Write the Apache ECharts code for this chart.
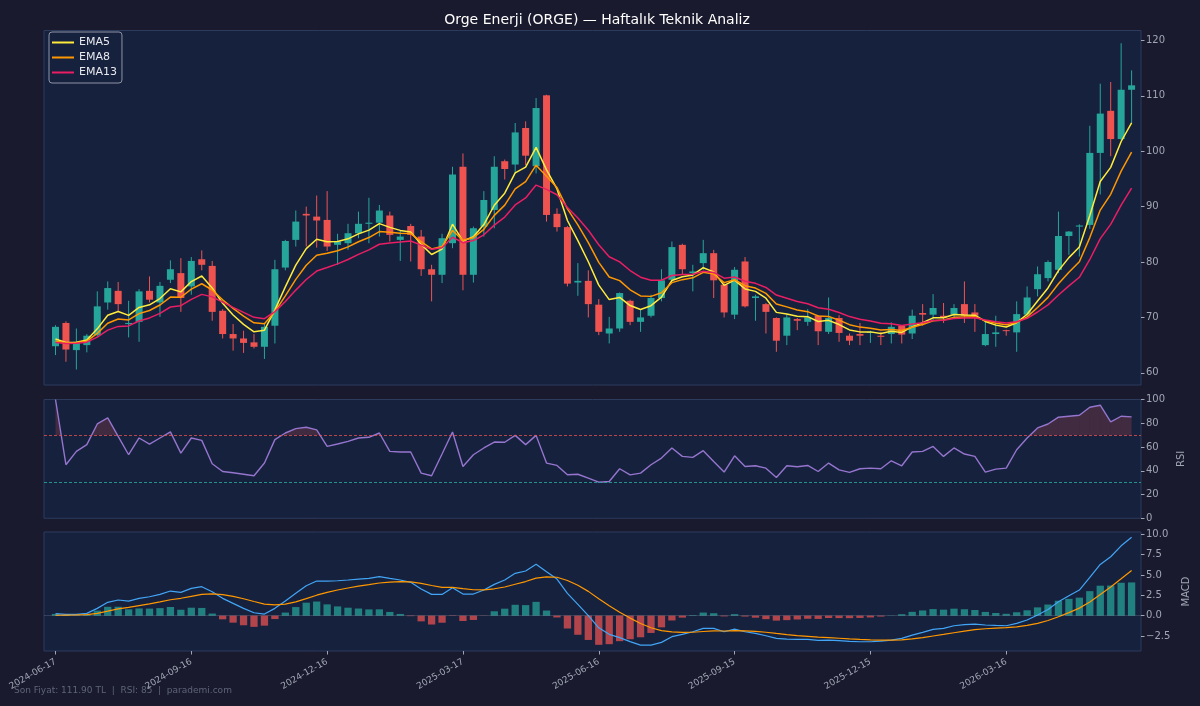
<!DOCTYPE html>
<html><head><meta charset="utf-8">
<script src="https://cdn.jsdelivr.net/npm/echarts@6/dist/echarts.min.js"></script>
<style>html,body{margin:0;padding:0;background:#1a1a2e;}#c{width:1200px;height:706px;}</style>
</head><body><div id="c"></div>
<script>
// ---- data (weekly, index 0 = 2024-06-17) ----
const opens  = [64.8,69.0,64.1,65.0,66.8,72.7,74.8,68.8,69.2,74.8, 72.7,76.8,78.0,75.6,80.5,79.3,71.2,67.0,66.2,65.5, 64.7,68.5,79.0,84.0,88.7,88.2,87.6,83.1,83.4,85.2, 86.9,87.1,88.4,84.0,86.5,84.6,78.7,77.7,83.4,97.2, 77.7,86.4,89.4,98.2,97.6,104.2,97.3,110.1,88.7,86.3, 76.3,76.6,72.3,67.1,68.0,73.0,69.2,70.3,73.5,76.8, 83.1,78.0,79.8,81.6,75.9,70.5,80.1,73.5,72.4,69.9, 66.7,69.7,69.2,70.3,67.4,69.9,66.7,67.0,67.2,66.7, 67.0,68.5,67.1,70.8,70.5,70.3,70.5,72.4,70.9,65.0, 67.0,67.7,67.3,70.5,75.1,77.1,78.6,84.7,86.4,86.7, 99.7,107.3,102.2,111.1];
const closes = [68.3,64.2,65.6,66.7,72.0,75.3,72.4,69.0,74.7,73.2, 75.7,78.7,73.5,80.2,79.5,71.0,67.0,66.2,65.4,64.7, 68.3,78.7,83.8,87.3,88.4,87.5,82.8,83.7,85.2,86.9, 87.1,89.3,84.9,84.6,84.9,78.7,77.7,84.3,95.8,77.7, 86.1,91.2,97.2,96.8,103.4,99.2,107.8,88.5,86.3,76.1, 76.6,72.4,67.4,68.0,74.4,69.2,70.0,73.5,76.7,82.7, 78.7,78.3,81.6,76.7,70.9,78.6,72.0,73.8,71.0,65.8, 70.0,69.4,70.0,67.5,69.9,67.2,65.8,66.7,67.4,66.5, 68.3,66.9,70.3,70.5,71.7,70.0,71.7,70.3,70.3,67.0, 67.3,67.6,70.6,73.6,77.8,80.0,84.7,85.5,86.6,99.7, 106.8,102.2,111.1,111.9];
const lows   = [63.2,62.0,60.6,63.7,66.5,71.4,71.0,66.4,65.6,72.7, 70.1,76.2,71.0,74.1,78.5,69.4,66.2,64.0,63.6,64.4, 62.5,65.3,78.5,82.8,82.8,82.6,82.0,79.5,82.2,84.3, 83.4,84.6,83.7,80.2,80.1,77.5,72.9,76.2,82.5,74.9, 76.3,84.6,86.1,94.9,96.0,97.5,96.0,87.3,85.5,75.6, 73.9,70.0,66.8,65.3,67.4,68.6,67.4,70.0,72.9,76.5, 77.7,74.7,78.6,73.5,70.0,69.7,71.8,69.4,67.1,63.8, 65.0,67.7,68.5,65.0,67.0,65.6,65.0,65.0,65.4,65.0, 65.3,65.3,66.1,68.5,69.5,69.0,70.0,69.0,67.4,64.8, 64.7,66.7,63.8,70.0,73.8,76.5,78.0,81.3,81.0,86.0, 92.2,99.1,102.0,105.1];
const highs  = [68.6,69.3,68.0,67.0,74.7,76.5,76.4,73.0,75.1,77.4, 76.4,80.3,80.7,80.9,82.1,80.2,71.5,68.8,67.6,67.0, 69.0,80.4,84.0,89.3,90.0,92.0,92.8,85.1,86.9,89.1, 91.6,90.3,89.1,85.8,86.9,85.8,79.5,85.1,97.2,99.6, 86.4,92.8,99.1,98.5,105.1,105.4,109.6,110.2,89.7,86.5, 79.8,78.5,73.3,70.1,74.5,73.2,71.4,74.1,78.7,83.7, 83.3,79.5,84.0,82.2,76.2,79.1,80.9,74.1,72.6,70.0, 70.6,69.9,71.5,70.4,73.6,70.4,67.1,69.0,67.6,67.4, 69.1,68.6,71.4,72.4,74.2,72.6,72.4,76.5,72.4,69.2, 70.3,67.8,72.9,75.6,79.2,80.3,89.1,85.6,86.8,104.6, 112.2,112.5,119.5,114.6];

const ema5  = [66.1,65.47,65.51,65.91,67.94,70.39,71.06,70.37,71.81,72.27, 73.41,75.17,74.61,76.47,77.48,75.32,72.55,70.43,68.75,67.4, 67.7,71.37,75.51,79.44,82.43,84.12,83.68,83.69,84.19,85.09, 85.76,86.94,86.26,85.71,85.44,83.19,81.36,82.34,86.83,83.79, 84.56,86.77,90.25,92.43,96.09,97.13,100.69,96.63,93.19,87.5, 83.87,80.05,75.83,73.22,73.61,72.14,71.43,72.12,73.65,76.67, 77.35,77.67,78.98,78.22,75.78,76.72,75.15,74.7,73.47,70.91, 70.61,70.21,70.14,69.26,69.47,68.71,67.74,67.39,67.39,67.09, 67.49,67.29,68.29,69.03,69.92,69.95,70.53,70.45,70.4,69.27, 68.61,68.27,69.05,70.57,72.98,75.32,78.45,80.8,82.73,88.39, 94.53,97.09,101.76,105.14];
const ema8  = [65.73,65.39,65.44,65.72,67.12,68.94,69.71,69.55,70.69,71.25, 72.24,73.68,73.64,75.1,76.08,74.95,73.18,71.63,70.25,69.02, 68.86,71.05,73.88,76.86,79.42,81.22,81.57,82.04,82.74,83.66, 84.42,85.5,85.37,85.2,85.13,83.7,82.37,82.8,85.69,83.91, 84.4,85.91,88.42,90.28,93.2,94.53,97.48,95.48,93.44,89.59, 86.7,83.52,79.94,77.29,76.65,74.99,73.88,73.8,74.44,76.28, 76.82,77.15,78.14,77.82,76.28,76.8,75.73,75.3,74.34,72.44, 71.9,71.34,71.04,70.25,70.17,69.51,68.69,68.25,68.06,67.71, 67.84,67.63,68.22,68.73,69.39,69.53,70.01,70.07,70.12,69.43, 68.96,68.66,69.09,70.09,71.8,73.62,76.08,78.17,80.04,84.41, 89.38,92.23,96.42,99.86];
const ema13 = [65.47,65.29,65.33,65.53,66.45,67.71,68.38,68.47,69.36,69.91, 70.74,71.88,72.11,73.27,74.16,73.71,72.75,71.81,70.9,70.01, 69.77,71.05,72.87,74.93,76.85,78.37,79.0,79.67,80.46,81.38, 82.2,83.21,83.45,83.61,83.79,83.06,82.29,82.58,84.47,83.5, 83.87,84.92,86.67,88.12,90.3,91.57,93.89,93.12,92.15,89.86, 87.96,85.74,83.12,80.96,80.02,78.47,77.26,76.72,76.72,77.57, 77.73,77.81,78.35,78.11,77.08,77.3,76.54,76.15,75.41,74.04, 73.46,72.88,72.47,71.76,71.49,70.88,70.15,69.66,69.34,68.93, 68.84,68.56,68.81,69.05,69.43,69.51,69.82,69.89,69.95,69.53, 69.21,68.98,69.21,69.84,70.98,72.27,74.05,75.69,77.25,80.46, 84.22,86.79,90.26,93.35];

const rsi = [100,45.1,56.3,62.0,79.4,84.5,69.0,53.5,67.6,62.5, 67.6,72.7,54.9,67.6,65.6,45.9,39.4,38.3,37.1,35.8, 46.5,66.2,71.8,75.5,76.6,74.4,60.5,62.5,64.8,67.6, 68.2,71.8,56.3,55.8,55.8,38.0,35.8,54.1,72.7,43.6, 53.5,59.2,64.2,64.0,69.8,62.0,69.8,46.5,44.5,36.6, 37.1,33.8,30.4,31.0,41.7,36.6,38.0,45.1,50.7,59.2, 52.1,51.3,56.9,47.8,38.9,52.6,43.6,44.2,42.2,34.3, 44.2,43.4,44.5,39.4,46.5,40.8,38.6,41.7,42.2,41.7, 48.4,44.2,55.8,56.3,60.5,52.1,59.2,54.1,52.1,38.9, 41.4,42.2,57.7,67.6,76.1,79.4,85.1,85.9,86.7,93.5, 95.2,81.1,85.9,85.4];

const macd = [0.26,0.15,0.15,0.28,0.9,1.64,1.93,1.8,2.13,2.33, 2.62,3.03,2.87,3.36,3.57,2.95,2.13,1.51,0.9,0.36, 0.2,0.9,1.8,2.75,3.69,4.26,4.26,4.3,4.39,4.51, 4.59,4.8,4.59,4.39,4.1,3.28,2.62,2.62,3.44,2.66, 2.66,3.16,3.85,4.39,5.21,5.5,6.32,5.41,4.51,2.75, 1.39,0.0,-1.5,-2.3,-2.71,-3.2,-3.62,-3.62,-3.29,-2.59, -2.3,-1.98,-1.57,-1.57,-1.98,-1.65,-1.98,-2.18,-2.47,-2.8, -2.88,-2.92,-2.92,-3.04,-3.0,-3.08,-3.17,-3.21,-3.21,-3.13, -3.0,-2.8,-2.39,-2.06,-1.69,-1.57,-1.24,-1.11,-1.03,-1.15, -1.2,-1.24,-0.95,-0.54,0.08,0.77,1.7,2.45,3.15,4.7, 6.3,7.25,8.6,9.66];
const signal = [0.05,0.07,0.09,0.13,0.28,0.55,0.83,1.02,1.24,1.46, 1.69,1.96,2.14,2.38,2.62,2.69,2.58,2.37,2.08,1.74, 1.43,1.32,1.42,1.69,2.09,2.52,2.87,3.16,3.41,3.63, 3.82,4.02,4.13,4.18,4.16,3.98,3.71,3.49,3.48,3.32, 3.19,3.18,3.31,3.53,3.87,4.2,4.62,4.78,4.73,4.33, 3.74,2.99,2.09,1.21,0.43,-0.3,-0.96,-1.49,-1.85,-2.0, -2.06,-2.04,-1.95,-1.87,-1.89,-1.84,-1.87,-1.93,-2.04,-2.19, -2.33,-2.45,-2.54,-2.64,-2.71,-2.78,-2.86,-2.93,-2.99,-3.02, -3.02,-2.98,-2.86,-2.7,-2.5,-2.31,-2.1,-1.9,-1.73,-1.61, -1.53,-1.47,-1.37,-1.2,-0.94,-0.6,-0.14,0.38,0.93,1.68, 2.61,3.54,4.55,5.57];
const hist = [0.21,0.08,0.06,0.15,0.62,1.09,1.1,0.78,0.89,0.87, 0.93,1.07,0.73,0.98,0.95,0.26,-0.45,-0.86,-1.18,-1.38, -1.23,-0.42,0.38,1.06,1.6,1.74,1.39,1.14,0.98,0.88, 0.77,0.78,0.46,0.21,-0.06,-0.7,-1.09,-0.87,-0.04,-0.66, -0.53,-0.02,0.54,0.86,1.34,1.3,1.7,0.63,-0.22,-1.58, -2.35,-2.99,-3.59,-3.51,-3.14,-2.9,-2.66,-2.13,-1.44,-0.59, -0.24,0.06,0.38,0.3,-0.09,0.19,-0.11,-0.25,-0.43,-0.61, -0.55,-0.47,-0.38,-0.4,-0.29,-0.3,-0.31,-0.28,-0.22,-0.11, 0.02,0.18,0.47,0.64,0.81,0.74,0.86,0.79,0.7,0.46, 0.33,0.23,0.42,0.66,1.02,1.37,1.84,2.07,2.22,3.02, 3.69,3.71,4.05,4.09];

const tickIndex  = [0,13,26,39,52,65,78,91];
const tickLabels = ['2024-06-17','2024-09-16','2024-12-16','2025-03-17','2025-06-16','2025-09-15','2025-12-15','2026-03-16'];
const priceTicks = [60,70,80,90,100,110,120];
const rsiTicks   = [0,20,40,60,80,100];
const macdTicks  = [-2.5,0,2.5,5,7.5,10];

// ---- chart ----
const FONT = 'DejaVu Sans';
const GRAY = '#a0a6b4';
const UP = '#26a69a', DOWN = '#ef5350';
const chart = echarts.init(document.getElementById('c'), null, {renderer:'canvas'});

const candleData = closes.map((c,i)=>[i, opens[i], c, lows[i], highs[i]]);
const pairs = arr => arr.map((v,i)=>[i,v]);
const rsiSeg = rsi.slice(0,-1).map((v,i)=>[i, v, rsi[i+1]]);

const gridBase = {left:44, width:1097, show:true, backgroundColor:'#16213e', borderColor:'#2c3a5c', borderWidth:1};
const xBase = (g, showLab) => ({
  type:'value', gridIndex:g, min:-1.1, max:103.9, position:'bottom',
  axisLine:{show:false, onZero:false}, splitLine:{show:false},
  axisTick:{show:showLab, length:3.5, lineStyle:{color:GRAY}, customValues: tickIndex},
  axisLabel:{show:showLab, customValues: tickIndex, rotate:30, fontSize:9, color:GRAY, fontFamily:FONT, margin:10,
    formatter: v => { const k = tickIndex.indexOf(Math.round(v)); return k>=0 ? tickLabels[k] : ''; }}
});
const yBase = (g, min, max, ticks, fmt) => ({
  type:'value', gridIndex:g, position:'right', min:min, max:max,
  axisLine:{show:false, onZero:false}, splitLine:{show:false},
  axisTick:{show:true, length:3.5, lineStyle:{color:GRAY}, customValues: ticks},
  axisLabel:{customValues: ticks, fontSize:10, color:GRAY, fontFamily:FONT, margin:5, formatter: fmt},
  nameTextStyle:{color:GRAY, fontSize:10, fontFamily:FONT}
});

function renderCandle(params, api){
  const i = api.value(0), o = api.value(1), c = api.value(2), l = api.value(3), h = api.value(4);
  const pO = api.coord([i,o]), pC = api.coord([i,c]), pL = api.coord([i,l]), pH = api.coord([i,h]);
  const col = c >= o ? UP : DOWN;
  const w = 7;
  const top = Math.min(pO[1], pC[1]);
  const hgt = Math.max(Math.abs(pO[1]-pC[1]), 1);
  return {type:'group', children:[
    {type:'line', shape:{x1:pH[0], y1:pH[1], x2:pL[0], y2:pL[1]}, style:{stroke:col, lineWidth:1}},
    {type:'rect', shape:{x:pO[0]-w/2, y:top, width:w, height:hgt}, style:{fill:col}}
  ]};
}
function renderRsiFill(params, api){
  const i = api.value(0), v0 = api.value(1), v1 = api.value(2);
  const polys = [];
  function band(level, above, color){
    const inA = v => above ? v >= level : v <= level;
    let pts = null;
    if (inA(v0) && inA(v1)) pts = [[i,level],[i,v0],[i+1,v1],[i+1,level]];
    else if (inA(v0) && !inA(v1)) { const t=(v0-level)/(v0-v1); pts = [[i,level],[i,v0],[i+t,level]]; }
    else if (!inA(v0) && inA(v1)) { const t=(level-v0)/(v1-v0); pts = [[i+t,level],[i+1,v1],[i+1,level]]; }
    if (pts) polys.push({type:'polygon', shape:{points: pts.map(p=>api.coord(p))}, style:{fill:color}});
  }
  band(70, true, 'rgba(239,83,80,0.2)');
  band(30, false, 'rgba(38,166,154,0.2)');
  return {type:'group', children: polys};
}

const option = {
  backgroundColor:'#1a1a2e',
  animation:false,
  textStyle:{fontFamily:FONT},
  title:{text:'Orge Enerji (ORGE) — Haftalık Teknik Analiz', left:592, top:8, textAlign:'center',
    textStyle:{color:'#ffffff', fontSize:14, fontWeight:'normal', fontFamily:FONT}},
  legend:{left:49, top:32, orient:'vertical', icon:'rect', itemWidth:22, itemHeight:2, itemGap:2,
    padding:[4,5,4,3], backgroundColor:'rgba(22,33,62,0.85)', borderColor:'#8f94a4', borderWidth:1, borderRadius:3,
    textStyle:{color:'#e8e8ee', fontSize:11, fontFamily:FONT, lineHeight:13},
    data:['EMA5','EMA8','EMA13']},
  grid:[
    Object.assign({top:30.5, height:354.5}, gridBase),
    Object.assign({top:399.5, height:118.8}, gridBase),
    Object.assign({top:532, height:119}, gridBase)
  ],
  xAxis:[xBase(0,false), xBase(1,false), xBase(2,true)],
  yAxis:[
    yBase(0, 57.8, 121.8, priceTicks, v => String(Math.round(v))),
    Object.assign(yBase(1, 0, 100, rsiTicks, v => String(Math.round(v))), {name:'RSI', nameLocation:'middle', nameRotate:90, nameGap:33}),
    Object.assign(yBase(2, -4.35, 10.3, macdTicks, v => (v<0?'\u2212':'') + Math.abs(v).toFixed(1)), {name:'MACD', nameLocation:'middle', nameRotate:90, nameGap:40})
  ],
  series:[
    {name:'Fiyat', type:'custom', xAxisIndex:0, yAxisIndex:0, renderItem:renderCandle, data:candleData,
     encode:{x:0, y:[1,2,3,4]}, z:2, silent:true},
    {name:'EMA5', type:'line', xAxisIndex:0, yAxisIndex:0, data:pairs(ema5), showSymbol:false, symbol:'none',
     lineStyle:{color:'#ffeb3b', width:1.5}, itemStyle:{color:'#ffeb3b'}, z:3},
    {name:'EMA8', type:'line', xAxisIndex:0, yAxisIndex:0, data:pairs(ema8), showSymbol:false, symbol:'none',
     lineStyle:{color:'#ff9800', width:1.5}, itemStyle:{color:'#ff9800'}, z:3},
    {name:'EMA13', type:'line', xAxisIndex:0, yAxisIndex:0, data:pairs(ema13), showSymbol:false, symbol:'none',
     lineStyle:{color:'#e91e63', width:1.5}, itemStyle:{color:'#e91e63'}, z:3},

    {name:'RSIfill', type:'custom', xAxisIndex:1, yAxisIndex:1, renderItem:renderRsiFill, data:rsiSeg,
     encode:{x:0, y:[1,2]}, z:1, silent:true},
    {name:'RSI', type:'line', xAxisIndex:1, yAxisIndex:1, data:pairs(rsi), showSymbol:false, symbol:'none',
     lineStyle:{color:'#9575cd', width:1.4}, z:3,
     markLine:{silent:true, symbol:'none', label:{show:false},
       data:[{yAxis:70, lineStyle:{color:'rgba(239,83,80,0.75)', type:[3,2], width:1}},
             {yAxis:30, lineStyle:{color:'rgba(38,166,154,0.85)', type:[3,2], width:1}}]}},

    {name:'Hist', type:'bar', xAxisIndex:2, yAxisIndex:2, data:pairs(hist), barWidth:7.3,
     itemStyle:{color: p => p.value[1] >= 0 ? 'rgba(38,166,154,0.72)' : 'rgba(239,83,80,0.72)'}, z:1,
     markLine:{silent:true, symbol:'none', label:{show:false},
       data:[{yAxis:0, lineStyle:{color:'rgba(255,255,255,0.18)', type:'solid', width:0.8}}]}},
    {name:'MACD', type:'line', xAxisIndex:2, yAxisIndex:2, data:pairs(macd), showSymbol:false, symbol:'none',
     lineStyle:{color:'#42a5f5', width:1.2}, z:3},
    {name:'Sinyal', type:'line', xAxisIndex:2, yAxisIndex:2, data:pairs(signal), showSymbol:false, symbol:'none',
     lineStyle:{color:'#ff9800', width:1.2}, z:3}
  ],
  graphic:[
    {type:'text', left:14, top:686, silent:true,
     style:{text:'Son Fiyat: ' + closes[closes.length-1].toFixed(2) + ' TL  |  RSI: ' + Math.round(rsi[rsi.length-1]) + '  |  parademi.com',
       fill:'#5d6478', font:'9px "DejaVu Sans"'}}
  ]
};
chart.setOption(option);
</script>
</body></html>
